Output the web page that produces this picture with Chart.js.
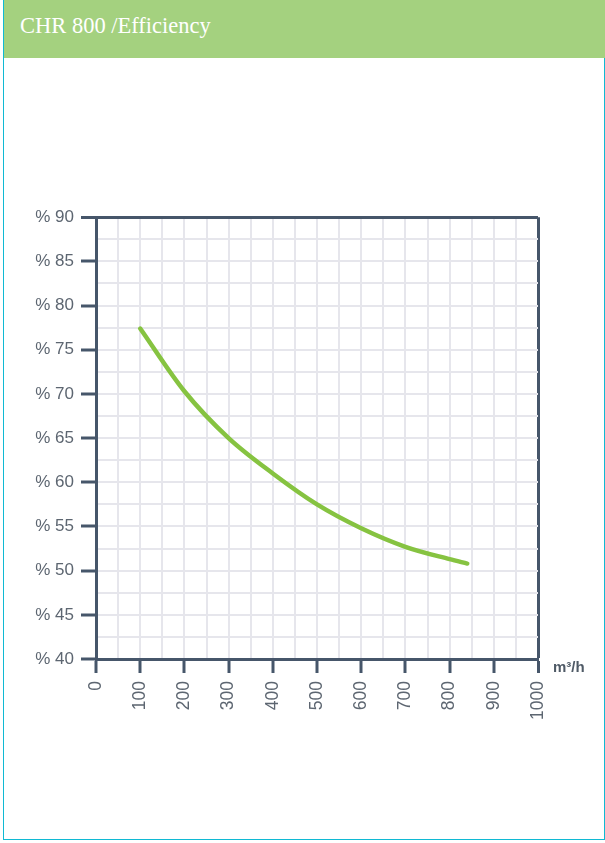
<!DOCTYPE html>
<html>
<head>
<meta charset="utf-8">
<script src="https://cdn.jsdelivr.net/npm/chart.js@4"></script>
<style>
  html, body { margin: 0; padding: 0; background: #fff; }
  #page { position: relative; width: 605px; height: 843px; overflow: hidden; }
  #frame { position: absolute; left: 3px; top: 0; width: 600px; height: 839px;
           border-left: 1.5px solid #10b9d3; border-right: 1.5px solid #10b9d3; border-bottom: 1.5px solid #10b9d3; }
  #head { position: absolute; left: 4px; top: 0; width: 601px; height: 58px; background: #a4d17f;
          color: #fff; font-family: "Liberation Serif", serif; font-size: 22.5px; line-height: 52px;
          padding-left: 16px; box-sizing: border-box; }
  #wrap { position: absolute; left: 0; top: 200px; width: 605px; height: 540px; }
</style>
</head>
<body>
<div id="page">
  <div id="frame"></div>
  <div id="head">CHR 800 /Efficiency</div>
  <div id="wrap"><canvas id="myChart"></canvas></div>
</div>
<script>
// flow rate (m3/h) and efficiency (%)
const flowRates = [100, 200, 300, 400, 500, 600, 700, 800, 840];
const efficiency = [77.4, 70.3, 65.0, 61.0, 57.5, 54.8, 52.7, 51.3, 50.8];

const xMin = 0, xMax = 1000, xStep = 50, xLabelStep = 100;
const yMin = 40, yMax = 90, yStep = 2.5, yLabelStep = 5;
const unitLabel = 'm³/h';

const dark = '#46566a';
const light = '#e6e6ec';
const labelColor = '#5d6671';

const unitPlugin = {
    id: 'unit',
    afterDraw(chart) {
        const ctx = chart.ctx, area = chart.chartArea;
        ctx.save();
        ctx.fillStyle = '#4f5a66';
        ctx.font = 'bold 15px "Liberation Sans", Arial, sans-serif';
        ctx.textBaseline = 'alphabetic';
        ctx.fillText(unitLabel, area.right + 15, area.bottom + 13);
        ctx.restore();
    }
};

const ctx = document.getElementById('myChart').getContext('2d');
const myChart = new Chart(ctx, {
    type: 'line',
    data: {
        datasets: [{
            data: flowRates.map((x, i) => ({x: x, y: efficiency[i]})),
            borderColor: '#86c341',
            borderWidth: 4.5,
            borderCapStyle: 'round',
            pointRadius: 0,
            cubicInterpolationMode: 'monotone',
            fill: false
        }]
    },
    options: {
        responsive: true,
        maintainAspectRatio: false,
        animation: false,
        layout: { padding: { left: 0, top: 15, right: 67, bottom: 0 } },
        plugins: { legend: { display: false }, tooltip: { enabled: false } },
        scales: {
            x: {
                type: 'linear',
                min: xMin, max: xMax,
                afterFit: s => { s.height = 81; },
                border: { display: true, color: dark, width: 3 },
                grid: {
                    color: c => c.tick && c.tick.value === xMax ? dark : light,
                    lineWidth: c => c.tick && c.tick.value === xMax ? 3 : 2,
                    tickColor: c => c.tick && c.tick.value % xLabelStep === 0 ? dark : 'rgba(0,0,0,0)',
                    tickWidth: 3,
                    tickLength: 14
                },
                ticks: {
                    stepSize: xStep,
                    autoSkip: false,
                    minRotation: 90, maxRotation: 90,
                    padding: 8,
                    color: labelColor,
                    font: { family: '"Liberation Sans", Arial, sans-serif', size: 17.5 },
                    callback: v => v % xLabelStep === 0 ? String(v) : ''
                }
            },
            y: {
                min: yMin, max: yMax,
                afterFit: s => { s.width = 96; },
                border: { display: true, color: dark, width: 3 },
                grid: {
                    color: c => c.tick && c.tick.value === yMax ? dark : light,
                    lineWidth: c => c.tick && c.tick.value === yMax ? 3 : 2,
                    tickColor: c => c.tick && c.tick.value % yLabelStep === 0 ? dark : 'rgba(0,0,0,0)',
                    tickWidth: 3,
                    tickLength: 15
                },
                ticks: {
                    stepSize: yStep,
                    autoSkip: false,
                    padding: 7,
                    color: labelColor,
                    font: { family: '"Liberation Sans", Arial, sans-serif', size: 17 },
                    callback: v => v % yLabelStep === 0 ? '% ' + v : ''
                }
            }
        }
    },
    plugins: [unitPlugin]
});
</script>
</body>
</html>
